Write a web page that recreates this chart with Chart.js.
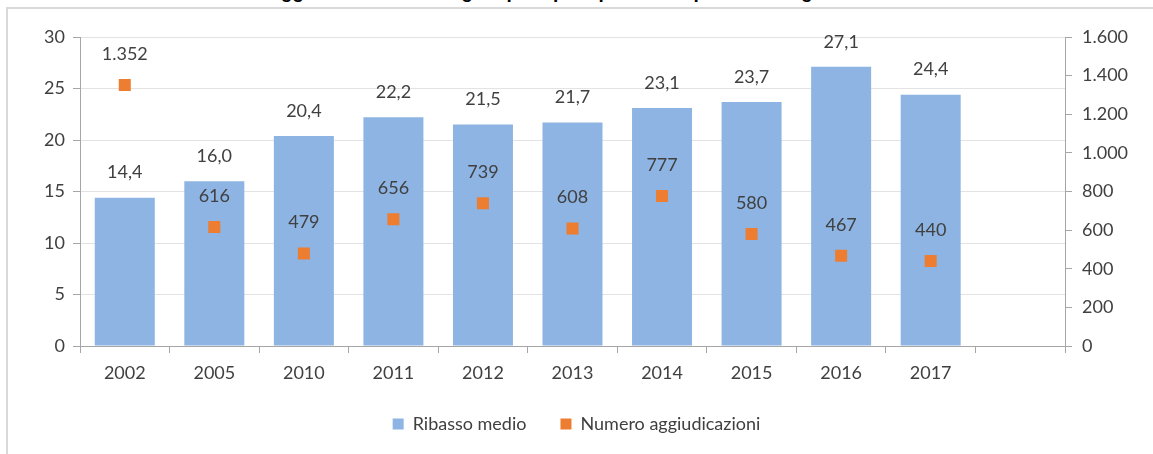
<!DOCTYPE html>
<html>
<head>
<meta charset="utf-8">
<script src="https://cdn.jsdelivr.net/npm/chart.js@4"></script>
<style>
  body { margin: 0; background: #fff; overflow: hidden; }
  #frame { position: absolute; left: 6px; top: 7px; width: 1160px; height: 460px;
           border-left: 2px solid #d9d9d9; border-top: 2px solid #d9d9d9; }
  #title { position: absolute; left: 4px; top: -19px; font: bold 19px "Liberation Sans", Arial, sans-serif;
           color: #000; white-space: nowrap; }
  #chart { position: absolute; left: 0; top: 0; }
</style>
</head>
<body>
<div id="title">Grafico 6 – Ribasso medio di aggiudicazione nelle gare per opere pubbliche per anno di gara</div>
<div id="frame"></div>
<canvas id="chart" width="1153" height="454"></canvas>
<script>
// anni (l'ultima colonna e' vuota come nel grafico originale)
var years = ['2002', '2005', '2010', '2011', '2012', '2013', '2014', '2015', '2016', '2017', ''];
var ribassoMedio = [14.4, 16.0, 20.4, 22.2, 21.5, 21.7, 23.1, 23.7, 27.1, 24.4, null];
var numeroAggiudicazioni = [1352, 616, 479, 656, 739, 608, 777, 580, 467, 440, null];
var leftTicks = [0, 5, 10, 15, 20, 25, 30];
var rightTicks = [0, 200, 400, 600, 800, 1000, 1200, 1400, 1600];

function fmtThousands(v) {
  return String(v).replace(/\B(?=(\d{3})+(?!\d))/g, '.');
}
function fmtDecimal(v) {
  return v.toFixed(1).replace('.', ',');
}

var FONT = 'Lato, "Open Sans", sans-serif';

// etichette dei valori sopra barre e punti
var valueLabels = {
  id: 'valueLabels',
  afterDatasetsDraw: function(chart) {
    var ctx = chart.ctx;
    ctx.save();
    ctx.font = '18px ' + FONT;
    ctx.fillStyle = '#404040';
    ctx.textAlign = 'center';
    ctx.textBaseline = 'middle';
    chart.data.datasets.forEach(function(ds, i) {
      var meta = chart.getDatasetMeta(i);
      meta.data.forEach(function(el, j) {
        var v = ds.data[j];
        if (v === null || v === undefined) return;
        if (ds.type === 'line') {
          ctx.fillText(fmtThousands(v), el.x, el.y - 31);
        } else {
          ctx.fillText(fmtDecimal(v), el.x, el.y - 25);
        }
      });
    });
    ctx.restore();
  }
};

var myChart = new Chart(document.getElementById('chart'), {
  type: 'bar',
  data: {
    labels: years,
    datasets: [{
      label: 'Ribasso medio',
      data: ribassoMedio,
      backgroundColor: '#8DB4E2',
      borderWidth: 0,
      categoryPercentage: 1,
      barPercentage: 0.67,
      yAxisID: 'y',
      order: 2
    }, {
      type: 'line',
      label: 'Numero aggiudicazioni',
      data: numeroAggiudicazioni,
      showLine: false,
      pointStyle: 'rect',
      pointRadius: 8.5,
      pointHoverRadius: 8.5,
      backgroundColor: '#ED7D31',
      borderColor: '#ED7D31',
      borderWidth: 0,
      yAxisID: 'y1',
      order: 1
    }]
  },
  options: {
    responsive: false,
    animation: false,
    layout: { padding: { top: 37, left: 0, right: 0, bottom: 11 } },
    plugins: {
      legend: {
        position: 'bottom',
        labels: {
          font: { family: FONT, size: 18 },
          color: '#404040',
          boxWidth: 11,
          boxHeight: 11,
          padding: 34,
          sort: function(a, b) { return a.datasetIndex - b.datasetIndex; }
        }
      },
      tooltip: { enabled: false }
    },
    scales: {
      x: {
        grid: { drawOnChartArea: false, offset: true, tickLength: 7, color: '#a6a6a6' },
        border: { color: '#a6a6a6' },
        ticks: { font: { family: FONT, size: 18 }, color: '#404040', padding: 9, maxRotation: 0 },
        afterFit: function(s) { s.height = 35; }
      },
      y: {
        position: 'left',
        min: 0, max: 30,
        afterBuildTicks: function(s) { s.ticks = leftTicks.map(function(v) { return { value: v }; }); },
        grid: { color: '#e3e3e3', tickLength: 7, tickColor: '#a6a6a6' },
        border: { color: '#a6a6a6' },
        ticks: { font: { family: FONT, size: 18 }, color: '#404040', padding: 8 },
        afterFit: function(s) { s.width = 80; }
      },
      y1: {
        position: 'right',
        min: 0, max: 1600,
        afterBuildTicks: function(s) { s.ticks = rightTicks.map(function(v) { return { value: v }; }); },
        grid: { drawOnChartArea: false, tickLength: 7, color: '#a6a6a6' },
        border: { color: '#a6a6a6' },
        ticks: {
          font: { family: FONT, size: 18 }, color: '#404040', padding: 10,
          callback: function(v) { return fmtThousands(v); }
        },
        afterFit: function(s) { s.width = 88; }
      }
    }
  },
  plugins: [valueLabels]
});
</script>
</body>
</html>
